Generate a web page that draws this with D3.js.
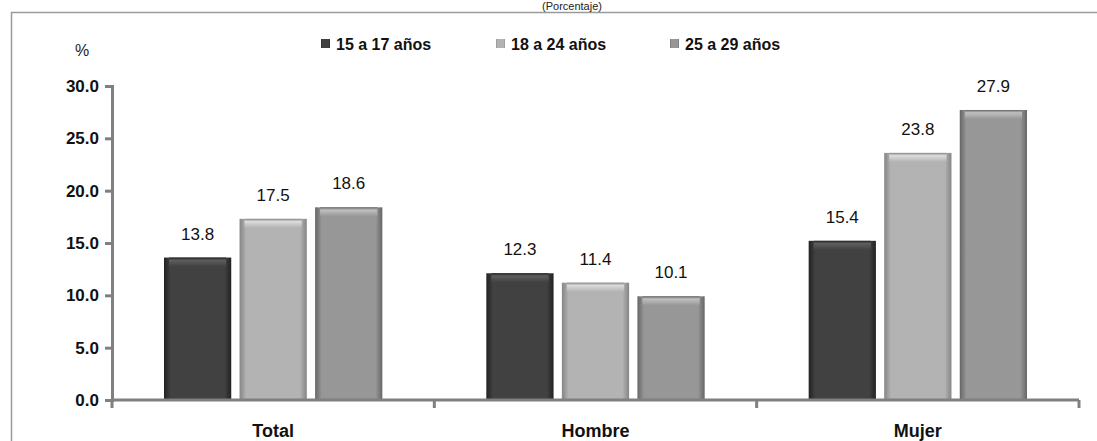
<!DOCTYPE html>
<html>
<head>
<meta charset="utf-8">
<script src="https://cdn.jsdelivr.net/npm/d3@7"></script>
<style>
  html, body { margin: 0; padding: 0; background: #fff; }
  svg { display: block; }
</style>
</head>
<body>
<svg id="chart" width="1097" height="441"></svg>
<script>
const categories = ["Total", "Hombre", "Mujer"];
const seriesNames = ["15 a 17 años", "18 a 24 años", "25 a 29 años"];
const s1517 = [13.8, 12.3, 15.4];
const s1824 = [17.5, 11.4, 23.8];
const s2529 = [18.6, 10.1, 27.9];
const yTicks = [0, 5, 10, 15, 20, 25, 30];
const title = "(Porcentaje)";
const yUnit = "%";

const seriesValues = [s1517, s1824, s2529];
const colors = [
  {mid: "#414141", edge: "#222222", top: "#5e5e5e"},
  {mid: "#b3b3b3", edge: "#858585", top: "#dcdcdc"},
  {mid: "#979797", edge: "#666666", top: "#c0c0c0"}
];

const svg = d3.select("#chart");
const defs = svg.append("defs");
colors.forEach((c, i) => {
  const g = defs.append("linearGradient").attr("id", "g" + i)
    .attr("x1", "0").attr("x2", "1").attr("y1", "0").attr("y2", "0");
  g.append("stop").attr("offset", "0").attr("stop-color", c.edge);
  g.append("stop").attr("offset", "0.1").attr("stop-color", c.mid);
  g.append("stop").attr("offset", "0.9").attr("stop-color", c.mid);
  g.append("stop").attr("offset", "1").attr("stop-color", c.edge);
  const t = defs.append("linearGradient").attr("id", "t" + i)
    .attr("x1", "0").attr("x2", "0").attr("y1", "0").attr("y2", "1");
  t.append("stop").attr("offset", "0").attr("stop-color", c.edge);
  t.append("stop").attr("offset", "0.3").attr("stop-color", c.top);
  t.append("stop").attr("offset", "1").attr("stop-color", c.mid);
});

const font = "Liberation Sans, Arial, sans-serif";

// frame
svg.append("line").attr("x1", 11).attr("x2", 1097).attr("y1", 12.5).attr("y2", 12.5)
  .attr("stroke", "#9a9a9a").attr("stroke-width", 1.5);
svg.append("line").attr("x1", 11.5).attr("x2", 11.5).attr("y1", 12).attr("y2", 441)
  .attr("stroke", "#9a9a9a").attr("stroke-width", 1.5);

// title
svg.append("text").attr("x", 572).attr("y", 10).attr("text-anchor", "middle")
  .attr("font-family", font).attr("font-size", 11)
  .attr("fill", "#222").text(title);

const x0 = d3.scaleBand().domain(categories).range([112, 1079]).paddingInner(0).paddingOuter(0);
const x1 = d3.scaleBand().domain(d3.range(3)).range([52, x0.bandwidth() - 52]).paddingInner(0.11);
const y = d3.scaleLinear().domain([0, 30]).range([400, 86]);

// bars
const groups = svg.append("g").selectAll("g").data(categories).join("g")
  .attr("transform", d => `translate(${x0(d)},0)`);

groups.each(function(cat, ci) {
  const g = d3.select(this);
  const data = seriesValues.map((s, si) => ({si, v: s[ci]}));
  g.selectAll("rect.bar").data(data).join("rect").attr("class", "bar")
    .attr("x", d => x1(d.si)).attr("width", x1.bandwidth())
    .attr("y", d => y(d.v) + 2).attr("height", d => y(0) - y(d.v) - 2)
    .attr("fill", d => `url(#g${d.si})`);
  g.selectAll("rect.top").data(data).join("rect").attr("class", "top")
    .attr("x", d => x1(d.si) + 5).attr("width", x1.bandwidth() - 10)
    .attr("y", d => y(d.v) + 2).attr("height", 9)
    .attr("fill", d => `url(#t${d.si})`);
  g.selectAll("text").data(data).join("text")
    .attr("x", d => x1(d.si) + x1.bandwidth() / 2)
    .attr("y", d => y(d.v) - 16)
    .attr("text-anchor", "middle")
    .attr("font-family", font).attr("font-size", 17)
    .attr("fill", "#111")
    .text(d => d.v.toFixed(1));
});

// y axis
const yAxis = d3.axisLeft(y).tickValues(yTicks).tickFormat(d3.format(".1f")).tickSize(7).tickPadding(6);
const ya = svg.append("g").attr("transform", "translate(112,0)").call(yAxis);
ya.select(".domain").attr("stroke", "#808080").attr("stroke-width", 3);
ya.selectAll(".tick line").attr("stroke", "#808080").attr("stroke-width", 3);
ya.selectAll(".tick text").attr("font-family", font)
  .attr("font-size", 17).attr("font-weight", "bold").attr("fill", "#111");

// x axis
const xTickPos = [112].concat(categories.map(c => x0(c) + x0.bandwidth()));
const xa = svg.append("g");
xa.append("line").attr("x1", 112).attr("x2", 1079).attr("y1", y(0)).attr("y2", y(0))
  .attr("stroke", "#808080").attr("stroke-width", 3);
xa.selectAll("line.t").data(xTickPos).join("line").attr("class", "t")
  .attr("x1", d => d).attr("x2", d => d).attr("y1", y(0)).attr("y2", y(0) + 8)
  .attr("stroke", "#808080").attr("stroke-width", 3);
xa.selectAll("text").data(categories).join("text")
  .attr("x", d => x0(d) + x0.bandwidth() / 2).attr("y", 437)
  .attr("text-anchor", "middle")
  .attr("font-family", font).attr("font-size", 18)
  .attr("font-weight", "bold").attr("fill", "#111").text(d => d);

// unit
svg.append("text").attr("x", 82).attr("y", 56).attr("text-anchor", "middle")
  .attr("font-family", font).attr("font-size", 16)
  .attr("fill", "#222").text(yUnit);

// legend
const legendX = [321, 496, 670];
const lg = svg.append("g").selectAll("g").data(seriesNames).join("g")
  .attr("transform", (d, i) => `translate(${legendX[i]},44)`);
lg.append("rect").attr("x", 0).attr("y", -5).attr("width", 9).attr("height", 9)
  .attr("fill", (d, i) => `url(#g${i})`);
lg.append("text").attr("x", 15).attr("y", 6)
  .attr("font-family", font)
  .attr("font-size", 16).attr("font-weight", "bold").attr("fill", "#111")
  .text(d => d);
</script>
</body>
</html>
